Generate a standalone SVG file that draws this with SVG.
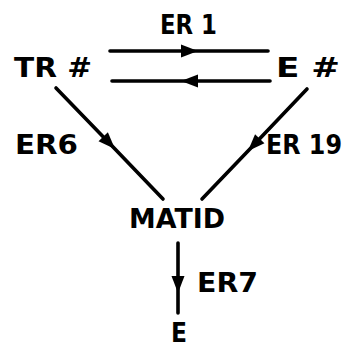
<svg xmlns="http://www.w3.org/2000/svg" width="361" height="349" viewBox="0 0 361 349">
<style>
.lbl{font-family:"DejaVu Sans","Liberation Sans",sans-serif;font-weight:bold;font-size:27px;fill:#000}
.edge{fill:none;stroke:#000;stroke-width:3.6;stroke-linecap:round;marker-mid:url(#ah)}
</style>
<defs>
<marker id="ah" markerUnits="userSpaceOnUse" markerWidth="20" markerHeight="16" viewBox="-18 -8 20 16" refX="0" refY="0" orient="auto">
<path d="M0,0 L-17,-6.5 L-17,6.5 Z" fill="#000"/>
</marker>
</defs>
<rect width="361" height="349" fill="#fff"/>
<g id="connectors">
<path class="edge" d="M110 51 L198 51 L268 51"/>
<path class="edge" d="M270 81 L181 81 L112 81"/>
<path class="edge" d="M56 88 L115 149 L163 199"/>
<path class="edge" d="M307 89 L248 151 L202 199"/>
<path class="edge" d="M178 243 L178 293 L178 313"/>
<text class="lbl" x="160" y="34" textLength="57" lengthAdjust="spacingAndGlyphs">ER 1</text>
<text class="lbl" x="15" y="154" textLength="63" lengthAdjust="spacingAndGlyphs">ER6</text>
<text class="lbl" x="266" y="154" textLength="76" lengthAdjust="spacingAndGlyphs">ER 19</text>
<text class="lbl" x="197" y="292" textLength="61" lengthAdjust="spacingAndGlyphs">ER7</text>
</g>
<g id="node-tr"><text class="lbl" x="14" y="77" textLength="78" lengthAdjust="spacingAndGlyphs">TR #</text></g>
<g id="node-e-hash"><text class="lbl" x="276" y="77" textLength="64" lengthAdjust="spacingAndGlyphs">E #</text></g>
<g id="node-matid"><text class="lbl" x="129" y="228" textLength="96" lengthAdjust="spacingAndGlyphs">MATID</text></g>
<g id="node-e"><text class="lbl" x="171" y="342" textLength="16" lengthAdjust="spacingAndGlyphs">E</text></g>
</svg>
